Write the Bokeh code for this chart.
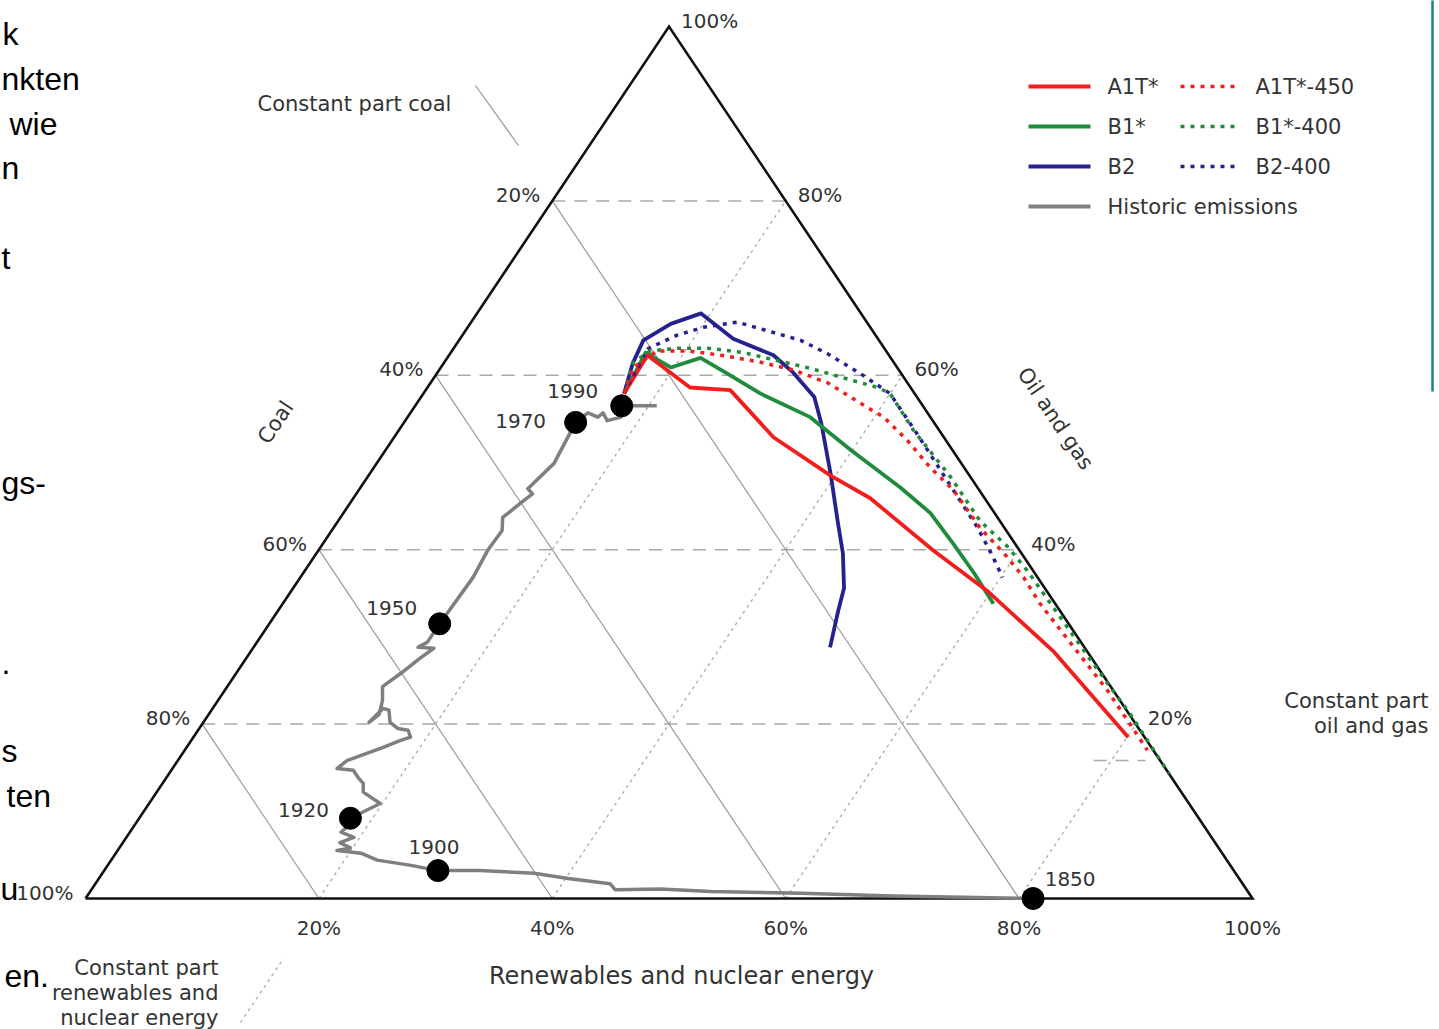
from bokeh.plotting import figure
from bokeh.models import Range1d
from bokeh.core.properties import value
from bokeh.embed import file_html
from bokeh.resources import INLINE

# ---------------- data: shares in percent (renewables+nuclear, oil+gas; coal = rest) ----------------
tick_values = [20, 40, 60, 80, 100]
grid_values = [20, 40, 60, 80]
tick_labels = ["20%", "40%", "60%", "80%", "100%"]

hist_renewables = [81.2, 69.1, 61.0, 53.2, 48.7, 44.9, 44.1, 40.2, 37.0, 32.2, 28.6, 26.0, 22.8, 21.0,
                   18.8, 19.8, 18.6, 19.5, 18.1, 18.4, 18.1, 19.8, 17.7, 17.2, 16.5, 15.6, 14.1, 14.5,
                   16.8, 17.9, 18.6, 18.0, 17.0, 16.0, 15.2, 14.6, 14.2, 14.6, 14.1, 13.3, 14.1, 14.9,
                   15.5, 14.1, 14.6, 14.6, 14.8, 14.5, 14.6, 13.9, 14.6, 15.1, 14.4, 15.2, 14.7, 15.2,
                   16.3, 16.5, 17.3, 18.3, 17.7, 20.7]
hist_oil_gas = [0.0, 0.3, 0.6, 0.8, 1.1, 1.0, 1.7, 2.3, 2.9, 3.2, 3.2, 3.8, 4.4, 5.2,
                5.5, 5.8, 6.4, 7.0, 7.6, 8.6, 9.2, 10.9, 12.2, 13.2, 13.8, 14.7, 14.9, 15.8,
                17.3, 18.1, 18.5, 19.3, 19.5, 20.2, 21.6, 21.8, 20.2, 21.1, 22.7, 24.3, 25.8, 27.6,
                28.7, 28.8, 29.4, 31.5, 36.8, 39.9, 42.2, 43.7, 45.3, 46.4, 47.0, 49.9, 54.6, 55.7,
                55.2, 55.7, 54.8, 55.2, 56.5, 56.5]

years = ["1850", "1900", "1920", "1950", "1970", "1990"]
year_renewables = [81.2, 28.6, 18.1, 14.6, 14.7, 17.7]
year_oil_gas = [0.0, 3.2, 9.2, 31.5, 54.6, 56.5]

a1t_renewables = [17.2, 17.0, 22.5, 26.1, 32.5, 39.6, 44.3, 52.7, 59.6, 68.7, 80.1]
a1t_oil_gas = [57.9, 62.3, 58.6, 58.3, 52.9, 48.5, 45.9, 39.9, 35.3, 28.4, 18.5]

a1t450_renewables = [17.2, 16.5, 17.6, 20.2, 23.3, 27.1, 30.4, 34.1, 38.0, 40.8, 44.2, 47.7, 51.0,
                     55.4, 58.9, 62.0, 64.9, 70.3, 75.6, 82.5]
a1t450_oil_gas = [57.9, 60.9, 62.8, 62.8, 62.3, 61.5, 60.6, 59.1, 56.8, 55.2, 52.5, 49.4, 46.8,
                  42.5, 39.6, 36.8, 33.8, 28.8, 23.9, 17.0]

b1_renewables = [17.2, 16.7, 19.7, 21.7, 24.9, 28.9, 34.5, 39.9, 46.3, 50.3, 54.0, 57.5, 60.9]
b1_oil_gas = [57.9, 62.6, 60.9, 62.0, 60.2, 57.9, 55.2, 51.4, 47.1, 44.2, 40.7, 37.3, 33.8]

b1400_renewables = [17.2, 16.2, 17.0, 19.2, 21.8, 25.1, 28.4, 31.7, 35.1, 38.6, 40.0, 44.1, 50.0,
                    55.0, 58.9, 61.9, 72.5, 79.1, 85.7]
b1400_oil_gas = [57.9, 61.5, 62.8, 63.1, 63.1, 62.6, 61.7, 60.8, 59.7, 58.6, 57.9, 53.7, 48.3,
                 43.3, 40.3, 37.6, 27.3, 21.0, 14.3]

b2_renewables = [17.2, 16.2, 15.8, 17.2, 19.2, 23.4, 27.8, 30.5, 33.7, 35.8, 39.5, 42.8, 45.1,
                 47.2, 48.0, 49.4]
b2_oil_gas = [57.9, 61.4, 64.0, 65.9, 67.1, 64.2, 62.3, 60.3, 57.5, 54.5, 48.7, 43.3, 39.6,
              35.6, 33.0, 28.8]

b2400_renewables = [17.2, 17.1, 16.7, 18.4, 20.2, 22.8, 25.9, 29.3, 32.3, 36.3, 40.0, 44.6, 49.9,
                    55.2, 57.8, 60.2]
b2400_oil_gas = [57.9, 58.6, 63.1, 64.6, 65.5, 66.1, 65.1, 64.0, 62.5, 60.2, 57.9, 53.3, 47.9,
                 42.5, 39.6, 36.8]

series_names = ["A1T*", "A1T*-450", "B1*", "B1*-400", "B2", "B2-400", "Historic emissions"]

# ---------------- geometry / styling ----------------
W, H = 1439, 1029
X0, XS = 85, 1167   # pixel of the coal corner, width of triangle base
Y0, YS = 898, 872   # pixel of the base, height of triangle

RED, GREEN, BLUE, GREY = "#f21d1d", "#1f8c3d", "#25218f", "#7f7f7f"
TXT = "#333333"
FONT = value("DejaVu Sans")
DOT = "4 6"


def tx(r, o):
    return r / 100.0 + o / 200.0


def ty(r, o):
    return o / 100.0


def px(x, y):
    return (x - X0) / XS, (Y0 - y) / YS


p = figure(width=W, height=H,
           x_range=Range1d(-X0 / XS, (W - X0) / XS),
           y_range=Range1d((Y0 - H) / YS, Y0 / YS),
           output_backend="svg", toolbar_location=None,
           x_axis_type=None, y_axis_type=None, title=None,
           min_border=0, min_border_left=0, min_border_right=0,
           min_border_top=0, min_border_bottom=0,
           outline_line_color=None, background_fill_color="white",
           border_fill_color="white")

# grid: constant oil & gas (dashed horizontal)
p.multi_line([[tx(0, v), tx(100 - v, v)] for v in grid_values],
             [[ty(0, v), ty(100 - v, v)] for v in grid_values],
             line_color="#a9a9a9", line_width=1.5, line_dash="13 9")
# grid: constant coal (solid, parallel to right side)
p.multi_line([[tx(0, 100 - c), tx(100 - c, 0)] for c in grid_values],
             [[ty(0, 100 - c), ty(100 - c, 0)] for c in grid_values],
             line_color="#9a9a9a", line_width=1.2)
# grid: constant renewables (dotted, parallel to left side)
p.multi_line([[tx(r, 0), tx(r, 100 - r)] for r in grid_values],
             [[ty(r, 0), ty(r, 100 - r)] for r in grid_values],
             line_color="#a9a9a9", line_width=1.3, line_dash="3 4")

# triangle
tri_r = [0, 100, 0, 0]
tri_o = [0, 0, 100, 0]
p.line([tx(r, o) for r, o in zip(tri_r, tri_o)], [ty(r, o) for r, o in zip(tri_r, tri_o)],
       line_color="#111111", line_width=2.6, line_join="miter")

# historic emissions
p.line([tx(r, o) for r, o in zip(hist_renewables, hist_oil_gas)],
       [ty(r, o) for r, o in zip(hist_renewables, hist_oil_gas)],
       line_color=GREY, line_width=3.5, line_join="round")
p.scatter([tx(r, o) for r, o in zip(year_renewables, year_oil_gas)],
          [ty(r, o) for r, o in zip(year_renewables, year_oil_gas)],
          size=22, fill_color="black", line_color="black")
p.text([tx(r, o) for r, o in zip(year_renewables, year_oil_gas)],
       [ty(r, o) for r, o in zip(year_renewables, year_oil_gas)],
       text=years, x_offset=[37, -4, -47, -48, -55, -49], y_offset=[-20, -24, -8, -16, -1, -15],
       text_font=FONT, text_font_size="20px", text_color=TXT,
       text_align="center", text_baseline="middle")

# scenarios
scen = [
    (b2_renewables, b2_oil_gas, BLUE, "solid"),
    (b1_renewables, b1_oil_gas, GREEN, "solid"),
    (a1t_renewables, a1t_oil_gas, RED, "solid"),
    (b2400_renewables, b2400_oil_gas, BLUE, DOT),
    (b1400_renewables, b1400_oil_gas, GREEN, DOT),
    (a1t450_renewables, a1t450_oil_gas, RED, DOT),
]
for rr, oo, col, dash in scen:
    p.line([tx(r, o) for r, o in zip(rr, oo)], [ty(r, o) for r, o in zip(rr, oo)],
           line_color=col, line_width=3.8 if dash == "solid" else 3.5,
           line_dash=dash, line_join="round")

# tick labels
# left side: coal share, right side: oil & gas share, bottom: renewables share
p.text([tx(0, 100 - v) for v in tick_values], [ty(0, 100 - v) for v in tick_values],
       text=tick_labels, x_offset=-12, y_offset=-6,
       text_font=FONT, text_font_size="20px", text_color=TXT,
       text_align="right", text_baseline="middle")
p.text([tx(100 - v, v) for v in tick_values], [ty(100 - v, v) for v in tick_values],
       text=tick_labels, x_offset=12, y_offset=-6,
       text_font=FONT, text_font_size="20px", text_color=TXT,
       text_align="left", text_baseline="middle")
p.text([tx(v, 0) for v in tick_values], [ty(v, 0) for v in tick_values],
       text=tick_labels, x_offset=0, y_offset=29,
       text_font=FONT, text_font_size="20px", text_color=TXT,
       text_align="center", text_baseline="middle")


# axis titles and notes
def label(x, y, s, align="left", angle=0.0, size="21px", color=TXT, font=FONT, baseline="middle"):
    X, Y = px(x, y)
    p.text([X], [Y], text=[s], angle=angle, angle_units="deg", text_font=font,
           text_font_size=size, text_color=color, text_align=align, text_baseline=baseline)


label(275, 422, "Coal", align="center", angle=56)
label(1055, 418, "Oil and gas", align="center", angle=-56)
label(681, 975, "Renewables and nuclear energy", align="center", size="24px")
label(257, 103, "Constant part coal", align="left")
label(218, 967, "Constant part", align="right")
label(218, 992, "renewables and", align="right")
label(218, 1017, "nuclear energy", align="right")
label(1428, 700, "Constant part", align="right")
label(1428, 725, "oil and gas", align="right")

# indicator lines for the three grid families
a, b = px(475, 85), px(518, 145)
p.line([a[0], b[0]], [a[1], b[1]], line_color="#9a9a9a", line_width=1.2)
a, b = px(240, 1022), px(283, 958)
p.line([a[0], b[0]], [a[1], b[1]], line_color="#a9a9a9", line_width=1.3, line_dash="3 4")
a, b = px(1093, 760), px(1145, 760)
p.line([a[0], b[0]], [a[1], b[1]], line_color="#a9a9a9", line_width=1.5, line_dash="13 9")

# legend (two columns, drawn by hand to match the original layout)
leg_cols = [(1028, 1090, 1107), (1180, 1237, 1255)]
leg_rows = [86, 126, 166, 206]
leg_items = [(0, 0, RED, "solid"), (1, 0, RED, DOT),
             (0, 1, GREEN, "solid"), (1, 1, GREEN, DOT),
             (0, 2, BLUE, "solid"), (1, 2, BLUE, DOT),
             (0, 3, GREY, "solid")]
for name, (ci, ri, col, dash) in zip(series_names, leg_items):
    x1, x2, xt = leg_cols[ci]
    yy = leg_rows[ri]
    a, b = px(x1, yy), px(x2, yy)
    p.line([a[0], b[0]], [a[1], b[1]], line_color=col,
           line_width=3.8 if dash == "solid" else 3.5, line_dash=dash)
    label(xt, yy, name, align="left")

# teal frame edge of the slide box at the right
a, b = px(1432, -2), px(1432, 391)
p.line([a[0], b[0]], [a[1], b[1]], line_color="#17847e", line_width=2.5)

# slide text fragments at the left border (kept fully inside the picture)
side_text = ["k", "nkten", "wie", "n", "t", "gs-", ".", "s", "ten", "u", "en."]
side_left = [2, 1, 9, 1, 1, 1, 1, 1, 6, 0, 4]
side_base = [33, 78, 123, 167, 257, 482, 662, 750, 795, 888, 975]
for s, xl, yb in zip(side_text, side_left, side_base):
    label(xl, yb, s, align="left", size="32px", color="#000000",
          font=value("Liberation Sans"), baseline="alphabetic")

open("out.html", "w").write(file_html(p, INLINE))
